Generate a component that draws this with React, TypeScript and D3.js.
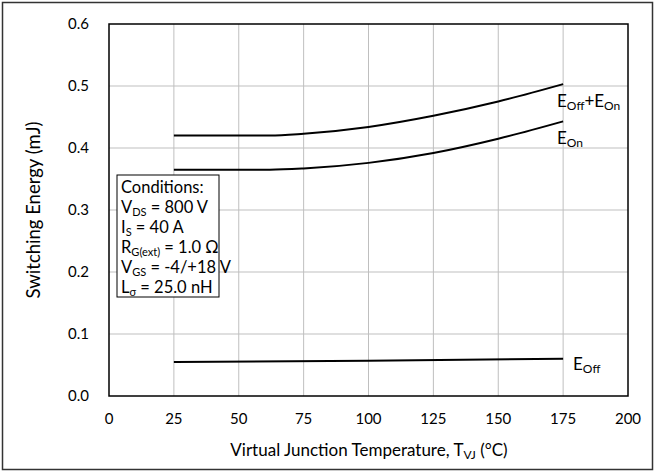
import React from "react";
import * as d3 from "d3";

const temps = [25, 50, 62, 75, 100, 125, 150, 175];
const eTotal = [0.42, 0.42, 0.42, 0.423, 0.434, 0.452, 0.475, 0.503];
const eOn = [0.365, 0.365, 0.365, 0.367, 0.376, 0.392, 0.415, 0.443];
const eOffTemps = [25, 100, 175];
const eOff = [0.055, 0.057, 0.06];
const xTicks = [0, 25, 50, 75, 100, 125, 150, 175, 200];
const yTicks = [0, 0.1, 0.2, 0.3, 0.4, 0.5, 0.6];

const W = 656, H = 474;
const FONT = "Lato, 'Open Sans', sans-serif";

// parts: alternating normal / subscript strings, starting with normal
function Rich({ parts, sub = 11, shift = 3 }: { parts: string[]; sub?: number; shift?: number }) {
  let level = 0;
  return (
    <>
      {parts.map((p, i) => {
        if (!p) return null;
        const isSub = i % 2 === 1;
        const target = isSub ? shift : 0;
        const dy = target - level;
        level = target;
        return (
          <tspan key={i} dy={dy || undefined} fontSize={isSub ? sub : undefined}>
            {p}
          </tspan>
        );
      })}
    </>
  );
}

export default function App() {
  const x = d3.scaleLinear().domain([0, 200]).range([109, 628]);
  const y = d3.scaleLinear().domain([0, 0.6]).range([396, 24]);
  const line = d3
    .line<[number, number]>()
    .x((d) => x(d[0]))
    .y((d) => y(d[1]))
    .curve(d3.curveMonotoneX);
  const series = [
    temps.map((t, i) => [t, eTotal[i]] as [number, number]),
    temps.map((t, i) => [t, eOn[i]] as [number, number]),
    eOffTemps.map((t, i) => [t, eOff[i]] as [number, number]),
  ];
  return (
    <svg
      width={W}
      height={H}
      style={{ position: "absolute", left: 0, top: 0 }}
      fontFamily={FONT}
    >
      <rect x={0} y={0} width={W} height={H} fill="#fff" />
      <rect x={2.5} y={2.5} width={650} height={467} fill="none" stroke="#333" strokeWidth={1.5} />
      {xTicks.slice(1, -1).map((t) => (
        <line key={"gx" + t} x1={x(t)} x2={x(t)} y1={y(0.6)} y2={y(0)} stroke="#bfbfbf" strokeWidth={1} />
      ))}
      {yTicks.slice(1, -1).map((t) => (
        <line key={"gy" + t} x1={x(0)} x2={x(200)} y1={y(t)} y2={y(t)} stroke="#bfbfbf" strokeWidth={1} />
      ))}
      <rect x={x(0)} y={y(0.6)} width={x(200) - x(0)} height={y(0) - y(0.6)} fill="none" stroke="#000" strokeWidth={1.5} />
      {series.map((s, i) => (
        <path key={i} d={line(s) || ""} fill="none" stroke="#000" strokeWidth={2} />
      ))}
      {yTicks.map((t) => (
        <text key={"yt" + t} x={89} y={y(t)} dy="0.35em" textAnchor="end" fontSize={15} fill="#000">
          {t.toFixed(1)}
        </text>
      ))}
      {xTicks.map((t) => (
        <text key={"xt" + t} x={x(t)} y={424} textAnchor="middle" fontSize={15} fill="#000">
          {t}
        </text>
      ))}
      <text x={369} y={456} textAnchor="middle" fontSize={17} fill="#000">
        <Rich parts={["Virtual Junction Temperature, T", "VJ", " (°C)"]} sub={12} />
      </text>
      <text transform={`translate(40,${y(0.3)}) rotate(-90)`} textAnchor="middle" fontSize={18.5} fill="#000">
        Switching Energy (mJ)
      </text>
      <rect x={117} y={175} width={102} height={122} fill="#fff" stroke="#000" strokeWidth={1} />
      <g fontSize={16.5} fill="#000">
        <text x={121} y={193}>Conditions:</text>
        <text x={121} y={213}><Rich parts={["V", "DS", " = 800 V"]} /></text>
        <text x={121} y={233}><Rich parts={["I", "S", " = 40 A"]} /></text>
        <text x={121} y={253}><Rich parts={["R", "G(ext)", " = 1.0 Ω"]} /></text>
        <text x={121} y={273}><Rich parts={["V", "GS", " = -4/+18 V"]} /></text>
        <text x={121} y={293}><Rich parts={["L", "σ", " = 25.0 nH"]} /></text>
      </g>
      <g fontSize={17} fill="#000">
        <text x={557} y={107}><Rich parts={["E", "Off", "+E", "On"]} sub={12} /></text>
        <text x={557} y={144}><Rich parts={["E", "On"]} sub={12} /></text>
        <text x={573} y={370}><Rich parts={["E", "Off"]} sub={12} /></text>
      </g>
    </svg>
  );
}
